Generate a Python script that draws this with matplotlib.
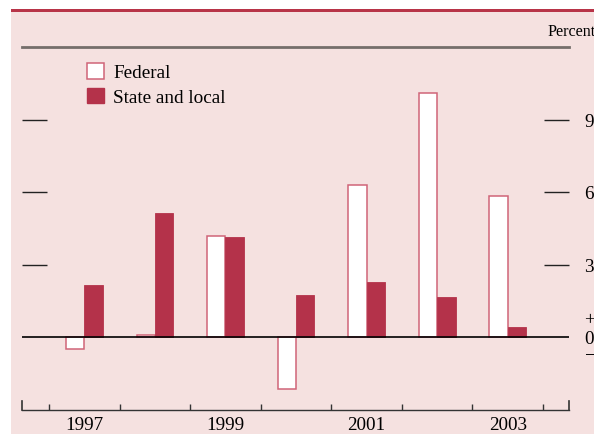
import matplotlib
matplotlib.use("Agg")
import matplotlib.pyplot as plt
from matplotlib.patches import Rectangle, Patch
from matplotlib.transforms import blended_transform_factory
import numpy as np

years = [1997, 1998, 1999, 2000, 2001, 2002, 2003]
federal = [-0.51, 0.08, 4.16, -2.15, 6.28, 10.09, 5.84]
state_local = [2.15, 5.12, 4.13, 1.75, 2.27, 1.66, 0.41]
year_labels = ["1997", "1999", "2001", "2003"]
label_years = [1997, 1999, 2001, 2003]
y_ticks = [3, 6, 9]

BG = "#f5e1e0"
RED = "#b4324a"
FED_EDGE = "#d06478"
TOPRED = "#b83448"
GRAY = "#756e6b"

plt.rcParams['font.family'] = ['Liberation Serif', 'DejaVu Serif']
FS = 13.8

W, H = 594, 435
fig = plt.figure(figsize=(W / 100, H / 100), dpi=100)
fig.patch.set_facecolor("white")
# pink panel and red top rule
fig.patches.append(Rectangle((11 / W, 0), 1 - 11 / W, 1 - 13 / H, transform=fig.transFigure,
                             facecolor=BG, edgecolor="none", zorder=-2))
fig.patches.append(Rectangle((11 / W, 1 - 13 / H), 1 - 11 / W, 3 / H, transform=fig.transFigure,
                             facecolor=TOPRED, edgecolor="none", zorder=-2))

x0, x1 = 22, 569
ytop, ybot = 48, 410.5
ax = fig.add_axes([x0 / W, 1 - ybot / H, (x1 - x0) / W, (ybot - ytop) / H])
ax.set_facecolor("none")
ax.set_zorder(2)

xlim = (1996.117, 2003.868)
ax.set_xlim(*xlim)
ax.set_ylim(-3, 12)

x = np.array(years, dtype=float)
w = 0.26
ax.bar(x - w / 2, federal, w, facecolor="white", edgecolor=FED_EDGE, linewidth=1.1, zorder=2)
ax.bar(x + w / 2, state_local, w, facecolor=RED, edgecolor=RED, linewidth=0.6, zorder=2)
ax.axhline(0, color="black", linewidth=1.2, zorder=3)

# spines
for s in ["left", "right"]:
    ax.spines[s].set_visible(False)
ax.spines["top"].set_color(GRAY)
ax.spines["top"].set_linewidth(2)
ax.spines["bottom"].set_color("#333333")
ax.spines["bottom"].set_linewidth(1.0)

# x ticks: boundaries (major), labels at centers (minor)
bounds = np.arange(1996.5, 2004.0, 1.0)
ax.set_xticks(bounds)
ax.set_xticklabels([])
ax.tick_params(axis="x", which="major", direction="in", length=4.5, width=1.0, color="#333333")
ax.set_xticks(label_years, minor=True)
ax.set_xticklabels(year_labels, minor=True, fontsize=FS)
ax.tick_params(axis="x", which="minor", length=0, pad=5)
for xe in xlim:
    ax.axvline(xe, ymin=0, ymax=9 / (ybot - ytop), color="#333333", linewidth=1.2, clip_on=False)

# y ticks
ax.set_yticks([0] + y_ticks)
ax.set_yticklabels(["0"] + [str(v) for v in y_ticks], fontsize=FS)
ax.tick_params(axis="y", which="major", direction="in", left=True, right=True,
               labelleft=False, labelright=True, length=18, width=1.0, color="#222222", pad=11)
yt = ax.yaxis.get_major_ticks()
yt[0].tick1line.set_visible(False)
yt[0].tick2line.set_visible(False)

trans = blended_transform_factory(ax.transAxes, ax.transData)
ax.annotate("+", xy=(1, 0), xycoords=trans, xytext=(11, 12.5), textcoords="offset points",
            ha="left", va="center", fontsize=FS)
ax.annotate("\u2212", xy=(1, 0), xycoords=trans, xytext=(11, -13.5), textcoords="offset points",
            ha="left", va="center", fontsize=FS)

fig.text(547 / W, 1 - 32 / H, "Percent", ha="left", va="center", fontsize=11.6)

handles = [Patch(facecolor="white", edgecolor=FED_EDGE, linewidth=1.1, label="Federal"),
           Patch(facecolor=RED, edgecolor=RED, label="State and local")]
ax.legend(handles=handles, loc="upper left",
          bbox_to_anchor=((87 - x0) / (x1 - x0), 1 - (64 - ytop) / (ybot - ytop)),
          frameon=False, fontsize=FS, handlelength=0.88, handleheight=0.88, handletextpad=0.5,
          labelspacing=0.32, borderaxespad=0, borderpad=0)

fig.savefig("out.png", dpi=100, facecolor="white")
